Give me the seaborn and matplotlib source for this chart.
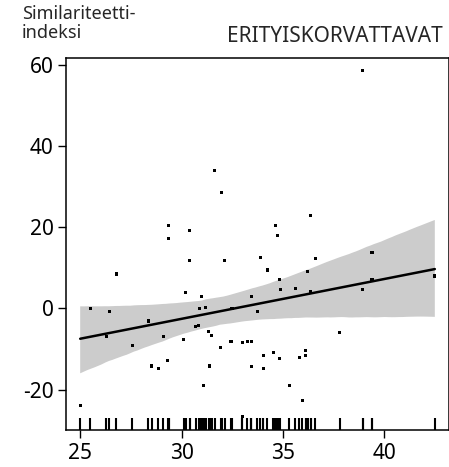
import numpy as np
import pandas as pd
import matplotlib
matplotlib.use('Agg')
import matplotlib.pyplot as plt
import seaborn as sns

# pisteet (x = ikä tms., y = similariteetti-indeksi), luettu kuvasta
x_vals = [31.65, 31.99, 29.36, 30.40, 29.36, 38.95, 36.37, 34.63, 34.73, 39.40,
          30.40, 32.14, 26.78, 30.21, 31.00, 33.44, 25.49, 30.90, 31.20, 32.49,
          26.43, 33.73, 28.37, 30.70, 30.85, 31.35, 31.50, 26.28, 29.11, 30.11,
          32.44, 32.99, 33.24, 33.44, 31.94, 27.57, 29.31, 28.52, 28.86, 31.40,
          33.44, 31.10, 25.00, 32.99, 33.88, 36.61, 34.23, 36.22, 34.83, 39.40,
          34.88, 35.62, 38.95, 36.37, 42.50, 37.81, 34.03, 34.53, 34.83, 36.12,
          36.12, 35.82, 34.03, 35.32, 35.97]
y_vals = [34.1, 28.6, 20.4, 19.2, 17.2, 58.6, 23.0, 20.4, 17.9, 13.8,
          11.9, 11.9, 8.5, 3.9, 2.95, 2.95, 0.05, 0.05, 0.3, 0.05,
          -0.7, -0.7, -3.1, -4.5, -4.3, -5.7, -6.7, -7.0, -7.0, -7.7,
          -8.1, -8.3, -8.1, -8.1, -9.6, -9.1, -12.8, -14.2, -14.7, -14.2,
          -14.4, -19.0, -24.0, -26.7, 12.6, 12.3, 9.5, 9.2, 7.1, 7.1,
          4.7, 4.9, 4.7, 4.2, 8.0, -6.0, -11.6, -10.8, -12.3, -10.3,
          -11.5, -12.1, -14.7, -19.1, -22.7]
x_ticks = [25, 30, 35, 40]
y_ticks = [-20, 0, 20, 40, 60]
y_tick_labels = ['-20', '0', '20', '40', '60']

df = pd.DataFrame({'x': x_vals, 'y': y_vals})

sns.set_style('ticks')
plt.rcParams['font.family'] = ['Noto Sans', 'DejaVu Sans']

fig = plt.figure(figsize=(4.49, 4.67), dpi=100)
ax = fig.add_axes([0.147, 0.079, 0.853, 0.797])

# regressiosuora + luottamusvyö
sns.regplot(data=df, x='x', y='y', ax=ax, scatter=False, ci=95, n_boot=2000, seed=3,
            color='black', line_kws={'linewidth': 1.8, 'zorder': 3})
for coll in ax.collections:
    coll.set_facecolor('#cccccc')
    coll.set_edgecolor('none')
    coll.set_alpha(1)

# pisteet päälle
sns.scatterplot(data=df, x='x', y='y', ax=ax, marker='s', s=5, color='black',
                edgecolor='none', linewidth=0, zorder=4)
sns.rugplot(data=df, x='x', ax=ax, height=0.032, color='black', linewidth=1.5)

ax.set_xlim(24.3, 43.2)
ax.set_ylim(-30, 61.8)
ax.set_xticks(x_ticks)
ax.set_yticks(y_ticks)
ax.set_yticklabels(y_tick_labels)
ax.set_xlabel('')
ax.set_ylabel('')
ax.tick_params(direction='out', length=6, width=1, labelsize=15, pad=3, colors='black')
for s in ['left', 'bottom', 'top', 'right']:
    ax.spines[s].set_visible(True)
    ax.spines[s].set_linewidth(1.1)
    ax.spines[s].set_color('black')

fig.text(0.049, 0.99, 'Similariteetti-\nindeksi', ha='left', va='top',
         fontsize=13, linespacing=1.12)
fig.text(0.987, 0.91, 'ERITYISKORVATTAVAT', ha='right', va='baseline', fontsize=15)

fig.savefig('out.png', dpi=100)
